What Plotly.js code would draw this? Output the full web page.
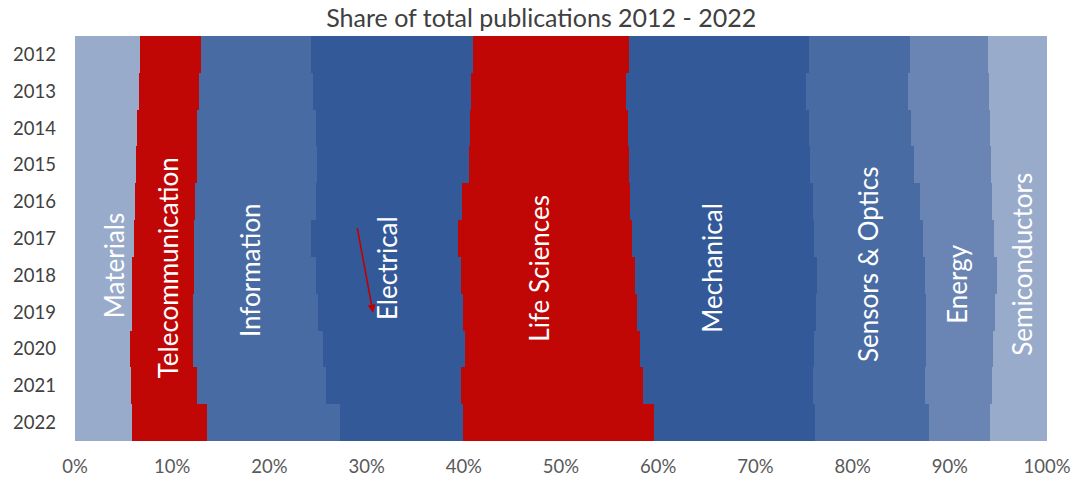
<!DOCTYPE html>
<html>
<head>
<meta charset="utf-8">
<script src="https://cdn.plot.ly/plotly-3.0.1.min.js"></script>
<style>html,body{margin:0;padding:0;background:#fff;}#chart{width:1076px;height:480px;}</style>
</head>
<body>
<div id="chart"></div>
<script>
const years = ['2012','2013','2014','2015','2016','2017','2018','2019','2020','2021','2022'];
const categories = ['Materials','Telecommunication','Information','Electrical','Life Sciences','Mechanical','Sensors & Optics','Energy','Semiconductors'];
const materials      = [6.7, 6.6, 6.4, 6.3, 6.2, 6.1, 5.9, 5.9, 5.7, 5.8, 5.9];
const telecom        = [6.2, 6.2, 6.2, 6.2, 6.2, 6.1, 6.4, 6.2, 6.4, 6.8, 7.7];
const information    = [11.4, 11.7, 12.2, 12.4, 12.4, 12.1, 12.5, 12.9, 13.4, 13.3, 13.7];
const electrical     = [16.6, 16.3, 15.8, 15.6, 15.1, 15.1, 15.0, 14.9, 14.6, 13.9, 12.7];
const lifeSciences   = [16.0, 16.0, 16.3, 16.5, 17.3, 17.9, 17.9, 17.9, 18.0, 18.8, 19.6];
const mechanical     = [18.5, 18.6, 18.6, 18.6, 18.8, 18.7, 18.7, 18.4, 17.9, 17.6, 16.6];
const sensorsOptics  = [10.4, 10.5, 10.5, 10.7, 11.0, 11.2, 11.1, 11.3, 11.5, 11.5, 11.7];
const energy         = [8.0, 8.3, 8.1, 7.9, 7.4, 7.3, 7.4, 7.1, 6.9, 6.9, 6.3];
const semiconductors = [6.1, 6.0, 5.9, 5.8, 5.7, 5.5, 5.2, 5.4, 5.6, 5.7, 5.9];
const xTicks = [0,10,20,30,40,50,60,70,80,90,100];
const xTickLabels = ['0%','10%','20%','30%','40%','50%','60%','70%','80%','90%','100%'];

const series = [materials, telecom, information, electrical, lifeSciences, mechanical, sensorsOptics, energy, semiconductors];
const colors = ['#97a9ca','#c00000','#4467a1','#2f5597','#c00000','#2f5597','#4467a1','#6681b1','#97a9ca'];

const traces = series.map((vals, i) => ({
  type: 'bar', orientation: 'h', name: categories[i],
  y: years, x: vals,
  marker: {color: colors[i], opacity: 0.975, line: {width: 0}},
  hoverinfo: 'name+x'
}));

// label positions (x in % units, y in paper)
const labelPos = [
  [3.96, 0.435], [9.6, 0.427], [18.0, 0.422], [32.1, 0.427], [47.7, 0.427],
  [65.5, 0.427], [81.6, 0.435], [90.8, 0.387], [97.4, 0.437]
];
const annotations = categories.map((c, i) => ({
  text: c, x: labelPos[i][0], y: labelPos[i][1], xref: 'x', yref: 'paper',
  showarrow: false, textangle: -90, xanchor: 'center', yanchor: 'middle',
  font: {family: 'Lato, "Open Sans", sans-serif', size: 26, color: '#ffffff'}
}));
annotations.push({
  x: 30.66, y: 0.3168, xref: 'x', yref: 'paper', text: '', showarrow: true,
  ax: -16, ay: -86, arrowcolor: '#c00000', arrowwidth: 1.6, arrowhead: 2, arrowsize: 1
});

const layout = {
  width: 1076, height: 480,
  margin: {l: 75, r: 29, t: 36, b: 39},
  barmode: 'stack', bargap: 0, barnorm: 'percent',
  showlegend: false,
  paper_bgcolor: '#ffffff', plot_bgcolor: '#ffffff',
  title: {text: 'Share of total publications 2012 - 2022', x: 0.503, xanchor: 'center', y: 0.963, yanchor: 'middle',
          font: {family: 'Lato, "Open Sans", sans-serif', size: 25, color: '#404040'}},
  xaxis: {range: [0, 100], tickvals: xTicks, ticktext: xTickLabels, showgrid: true, gridcolor: '#d9d9d9',
          zeroline: false, showline: false, ticks: '', ticklabelstandoff: 12,
          tickfont: {family: 'Lato, "Open Sans", sans-serif', size: 18.5, color: '#595959'}},
  yaxis: {type: 'category', autorange: 'reversed', showgrid: false, zeroline: false, showline: false,
          ticks: '', ticklabelstandoff: 18,
          tickfont: {family: 'Lato, "Open Sans", sans-serif', size: 18.5, color: '#404040'}},
  annotations: annotations
};

Plotly.newPlot('chart', traces, layout, {staticPlot: true, displayModeBar: false});
</script>
</body>
</html>
